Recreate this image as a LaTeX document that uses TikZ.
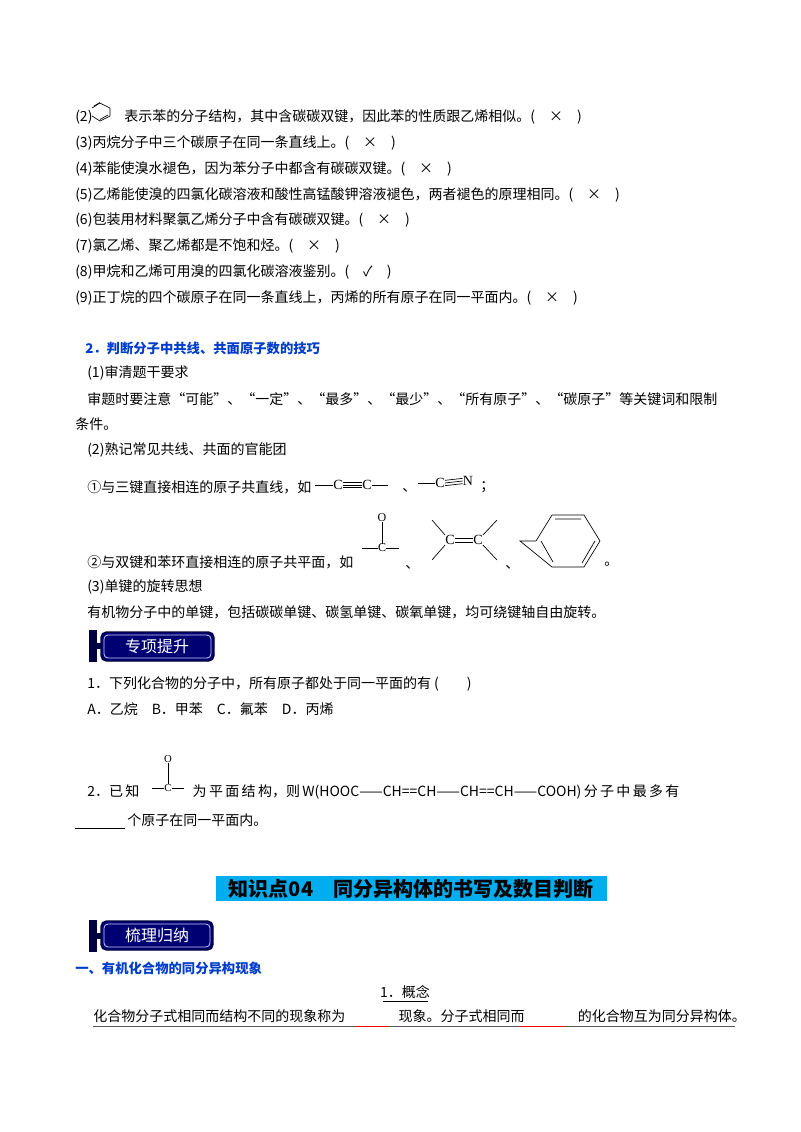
\documentclass[tikz,border=0pt]{standalone}
\usepackage{fontspec}
\setmainfont{Liberation Serif}
\newfontfamily\cjk{Noto Sans CJK SC}
\begin{document}
\begin{tikzpicture}[x=0.75pt,y=-0.75pt,
  t/.style={anchor=west,inner sep=0pt,font=\cjk\fontsize{10.5pt}{12pt}\selectfont},
  bh/.style={anchor=west,inner sep=0pt,font=\cjk\bfseries\fontsize{10pt}{12pt}\selectfont,text=blue!70!cyan!80!black},
  ch/.style={inner sep=0pt,font=\fontsize{10.5pt}{12pt}\selectfont},
  bond/.style={line width=0.5pt}]
\fill[white] (0,0) rectangle (800,1132);
\useasboundingbox (0,0) rectangle (800,1132);
% (2)
\node[t] (l2) at (75,117) {(2)\hspace{24pt}表示苯的分子结构，其中含碳碳双键，因此苯的性质跟乙烯相似。(\quad ×\quad )};
\draw[bond] (92,108)--(100,103)--(110,108)--(110,116)--(100,121)--(92,116);
\draw[bond] (94,106)--(100,102.5) (108,115)--(100,119.5);
\node[t] (l3) at (75,143) {(3)丙烷分子中三个碳原子在同一条直线上。(\quad ×\quad )};
\node[t] (l4) at (75,169) {(4)苯能使溴水褪色，因为苯分子中都含有碳碳双键。(\quad ×\quad )};
\node[t] (l5) at (75,195) {(5)乙烯能使溴的四氯化碳溶液和酸性高锰酸钾溶液褪色，两者褪色的原理相同。(\quad ×\quad )};
\node[t] (l6) at (75,220) {(6)包装用材料聚氯乙烯分子中含有碳碳双键。(\quad ×\quad )};
\node[t] (l7) at (75,246) {(7)氯乙烯、聚乙烯都是不饱和烃。(\quad ×\quad )};
\node[t] (l8) at (75,272) {(8)甲烷和乙烯可用溴的四氯化碳溶液鉴别。(\quad ✓\quad )};
\node[t] (l9) at (75,298) {(9)正丁烷的四个碳原子在同一条直线上，丙烯的所有原子在同一平面内。(\quad ×\quad )};
\node[bh] (h2) at (85,348) {2．判断分子中共线、共面原子数的技巧};
\node[t] (a1) at (87,373) {(1)审清题干要求};
\node[t] (a2) at (87,399) {审题时要注意“可能”、“一定”、“最多”、“最少”、“所有原子”、“碳原子”等关键词和限制};
\node[t] (a3) at (75,424) {条件。};
\node[t] (a4) at (87,450) {(2)熟记常见共线、共面的官能团};
\node[t] (a5) at (87,487) {①与三键直接相连的原子共直线，如};
% -C≡C-
\node[ch] (c1) at (338,485) {C}; \node[ch] (c2) at (367,485) {C};
\draw[bond] (315,485)--(c1.west); \draw[bond] (c2.east)--(388,485);
\draw[bond] ([yshift=-2pt]c1.east)--([yshift=-2pt]c2.west) (c1.east)--(c2.west) ([yshift=2pt]c1.east)--([yshift=2pt]c2.west);
\node[t] (d1) at (402,490) {、};
\node[ch] (c3) at (440,483) {C}; \node[ch] (n1) at (468,481) {N};
\draw[bond] (418,483)--(c3.west);
\draw[bond] ([yshift=-2pt]c3.east)--([yshift=-2pt]n1.west) (c3.east)--(n1.west) ([yshift=2pt]c3.east)--([yshift=2pt]n1.west);
\node[t] (d2) at (480,487) {；};
\node[t] (a6) at (87,562) {②与双键和苯环直接相连的原子共平面，如};
% C=O
\node[ch,font=\fontsize{9pt}{10pt}\selectfont] (o1) at (382,518) {O};
\node[ch,font=\fontsize{9pt}{10pt}\selectfont] (c4) at (382,548) {C};
\draw[bond] (o1)--(c4); \draw[bond] (362,548)--(c4.west) (c4.east)--(399,548);
\node[t] (d3) at (405,567) {、};
% C=C
\node[ch] (c5) at (450,540) {C}; \node[ch] (c6) at (478,540) {C};
\draw[bond] ([yshift=-1.5pt]c5.east)--([yshift=-1.5pt]c6.west) ([yshift=1.5pt]c5.east)--([yshift=1.5pt]c6.west);
\draw[bond] (c5.north west)--(432,520) (c5.south west)--(432,560) (c6.north east)--(497,520) (c6.south east)--(497,560);
\node[t] (d4) at (505,567) {、};
% benzene
\coordinate (bz) at (568,541);
\draw[bond] (520,541)--(536,541)--(552,515)--(584,515)--(600,541)--(584,567)--(552,567)--cycle;
\draw[bond] (555,519)--(581,519) (595,541)--(582,563) (541,541)--(553,562);
\node[t] (d5) at (604,564) {。};
\node[t] (a7) at (87,587) {(3)单键的旋转思想};
\node[t] (a8) at (87,612) {有机物分子中的单键，包括碳碳单键、碳氢单键、碳氧单键，均可绕键轴自由旋转。};
% banner 1
\fill[blue!25!black] (89,630) rectangle (97,662);
\fill[blue!25!black] (95,643) rectangle (106,649);
\draw[rounded corners=4pt,fill=blue!45!black,draw=blue!25!black,line width=1pt] (101,632) rectangle (214,661);
\draw[rounded corners=3pt,draw=white!80!blue,line width=0.6pt] (104,635) rectangle (211,658);
\node[font=\cjk\fontsize{12pt}{14pt}\selectfont,text=white] (b1) at (157,646) {专项提升};
\node[t] (q1) at (87,684) {1．下列化合物的分子中，所有原子都处于同一平面的有 (\qquad )};
\node[t] (q1a) at (87,709) {A．乙烷\quad B．甲苯\quad C．氟苯\quad D．丙烯};
% item 2
\node[ch,font=\fontsize{8pt}{9pt}\selectfont] (o2) at (168,759) {O};
\node[ch,font=\fontsize{8pt}{9pt}\selectfont] (c7) at (168,788) {C};
\draw[bond] (o2)--(c7); \draw[bond] (152,788)--(c7.west) (c7.east)--(184,788);
\node[t] (q2) at (87,792) {2．已\,知\hspace{40pt}为\,平\,面\,结\,构，则\,W(HOOC——CH==CH——CH==CH——COOH)\,分\,子\,中\,最\,多\,有};
\draw[line width=0.5pt] (75,828)--(125,828);
\node[t] (q2b) at (127,820) {个原子在同一平面内。};
% heading 04
\fill[cyan] (216,876) rectangle (607,901);
\node[font=\cjk\bfseries\fontsize{15pt}{17pt}\selectfont,inner sep=0pt] (k4) at (411,889) {知识点04\quad 同分异构体的书写及数目判断};
% banner 2
\fill[blue!25!black] (89,920) rectangle (97,952);
\fill[blue!25!black] (95,933) rectangle (106,939);
\draw[rounded corners=4pt,fill=blue!45!black,draw=blue!25!black,line width=1pt] (101,921) rectangle (213,950);
\draw[rounded corners=3pt,draw=white!80!blue,line width=0.6pt] (104,924) rectangle (210,947);
\node[font=\cjk\fontsize{12pt}{14pt}\selectfont,text=white] (b2) at (157,935.5) {梳理归纳};
\node[bh] (s1) at (75,968) {一、有机化合物的同分异构现象};
\node[font=\cjk\fontsize{10.5pt}{12pt}\selectfont,inner sep=0pt] (gn) at (405,992) {1．概念};
\draw[line width=0.5pt] (383,1001)--(428,1001);
\node[t] (p1) at (93,1016) {化合物分子式相同而结构不同的现象称为\hspace{40pt}现象。分子式相同而\hspace{40pt}的化合物互为同分异构体。};
\draw[line width=0.6pt,gray!70!black] (93,1026)--(735,1026);
\draw[line width=0.6pt,red] (355,1026)--(388,1026) (520,1026)--(565,1026);
\end{tikzpicture}
\end{document}
